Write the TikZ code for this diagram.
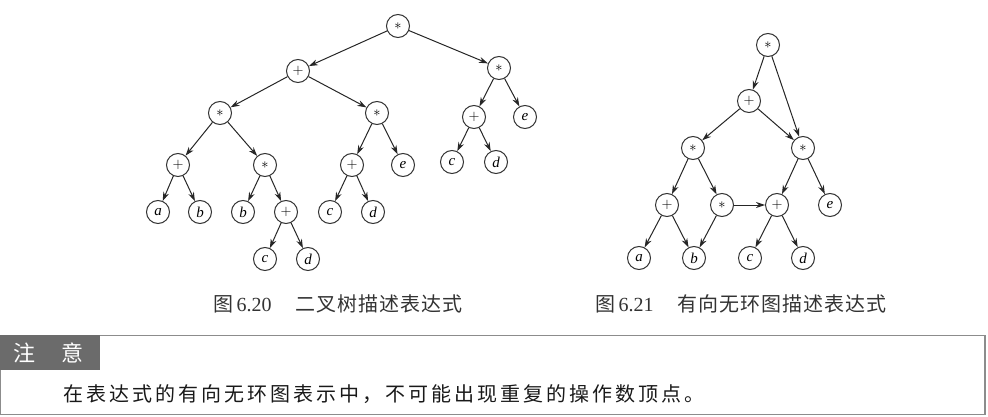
\documentclass[tikz,border=0pt]{standalone}
\usepackage{fontspec}
\setmainfont{Liberation Serif}
\newfontfamily\cjk{Noto Sans CJK SC}
\newfontfamily\cjkcap[LetterSpace=5]{Noto Sans CJK SC}
\newfontfamily\cjknote[LetterSpace=15]{Noto Sans CJK SC}
\usetikzlibrary{arrows.meta}
\begin{document}
\begin{tikzpicture}[x=1pt,y=-1pt,
  vtx/.style={circle,draw=black!80,line width=1pt,minimum size=23pt,inner sep=0pt,font=\fontsize{15}{15}\selectfont\itshape},
  arc/.style={draw=black!85,line width=1pt,-{Stealth[length=9pt,width=6pt]}},
  captxt/.style={font=\fontsize{20}{24}\selectfont, text=black!80, inner sep=0pt, anchor=west},
  notetxt/.style={font=\fontsize{20}{24}\selectfont\cjknote, text=black!90, inner sep=0pt, anchor=west}]
\useasboundingbox (0,0) rectangle (988,417);
% ---------- left binary tree ----------
\node[vtx] (r)  at (398,26)  {$*$};
\node[vtx] (p1) at (298,71)  {$+$};
\node[vtx] (m1) at (499,68)  {$*$};
\node[vtx] (s1) at (220,113) {$*$};
\node[vtx] (s2) at (377,113) {$*$};
\node[vtx] (p2) at (474,117) {$+$};
\node[vtx] (e1) at (525,117) {e};
\node[vtx] (p3) at (178,165) {$+$};
\node[vtx] (s3) at (265,165) {$*$};
\node[vtx] (p4) at (352,165) {$+$};
\node[vtx] (e2) at (403,165) {e};
\node[vtx] (c1) at (452,162) {c};
\node[vtx] (d1) at (496,162) {d};
\node[vtx] (a2) at (158,212) {a};
\node[vtx] (b2) at (200,212) {b};
\node[vtx] (b3) at (243,212) {b};
\node[vtx] (p5) at (286,212) {$+$};
\node[vtx] (c2) at (330,212) {c};
\node[vtx] (d2) at (373,212) {d};
\node[vtx] (c3) at (265,259) {c};
\node[vtx] (d3) at (308,259) {d};
\foreach \u/\v in {r/p1,r/m1,p1/s1,p1/s2,m1/p2,m1/e1,s1/p3,s1/s3,s2/p4,s2/e2,
  p2/c1,p2/d1,p3/a2,p3/b2,s3/b3,s3/p5,p4/c2,p4/d2,p5/c3,p5/d3}
  \draw[arc] (\u) -- (\v);
% ---------- right DAG ----------
\node[vtx] (t)  at (768,45)  {$*$};
\node[vtx] (q)  at (749,101) {$+$};
\node[vtx] (L)  at (693,148) {$*$};
\node[vtx] (R)  at (803,148) {$*$};
\node[vtx] (ll) at (667,205) {$+$};
\node[vtx] (mm) at (722,205) {$*$};
\node[vtx] (mr) at (777,205) {$+$};
\node[vtx] (ee) at (830,205) {e};
\node[vtx] (aa) at (639,258) {a};
\node[vtx] (bb) at (694,258) {b};
\node[vtx] (cc) at (750,258) {c};
\node[vtx] (dd) at (803,258) {d};
\foreach \u/\v in {t/q,t/R,q/L,q/R,L/ll,L/mm,R/mr,R/ee,ll/aa,ll/bb,mm/bb,mm/mr,mr/cc,mr/dd}
  \draw[arc] (\u) -- (\v);
% ---------- captions ----------
\node[captxt] (cap1) at (213,304) {{\cjk 图}\,6.20\hspace{24pt}{\cjkcap 二叉树描述表达式}};
\node[captxt] (cap2) at (595,304) {{\cjk 图}\,6.21\hspace{24pt}{\cjkcap 有向无环图描述表达式}};
% ---------- note box ----------
\draw[draw=black!45,line width=1.3pt] (0.7,335.5) rectangle (985,414.5);
\fill[black!58] (0,334.8) rectangle (100,370);
\node[font=\fontsize{22}{24}\selectfont\cjk,text=white,inner sep=0pt] (hd) at (48.5,353) {注\hspace{27pt}意};
\node[notetxt] (nt) at (63,394) {在表达式的有向无环图表示中，不可能出现重复的操作数顶点。};
\end{tikzpicture}
\end{document}
